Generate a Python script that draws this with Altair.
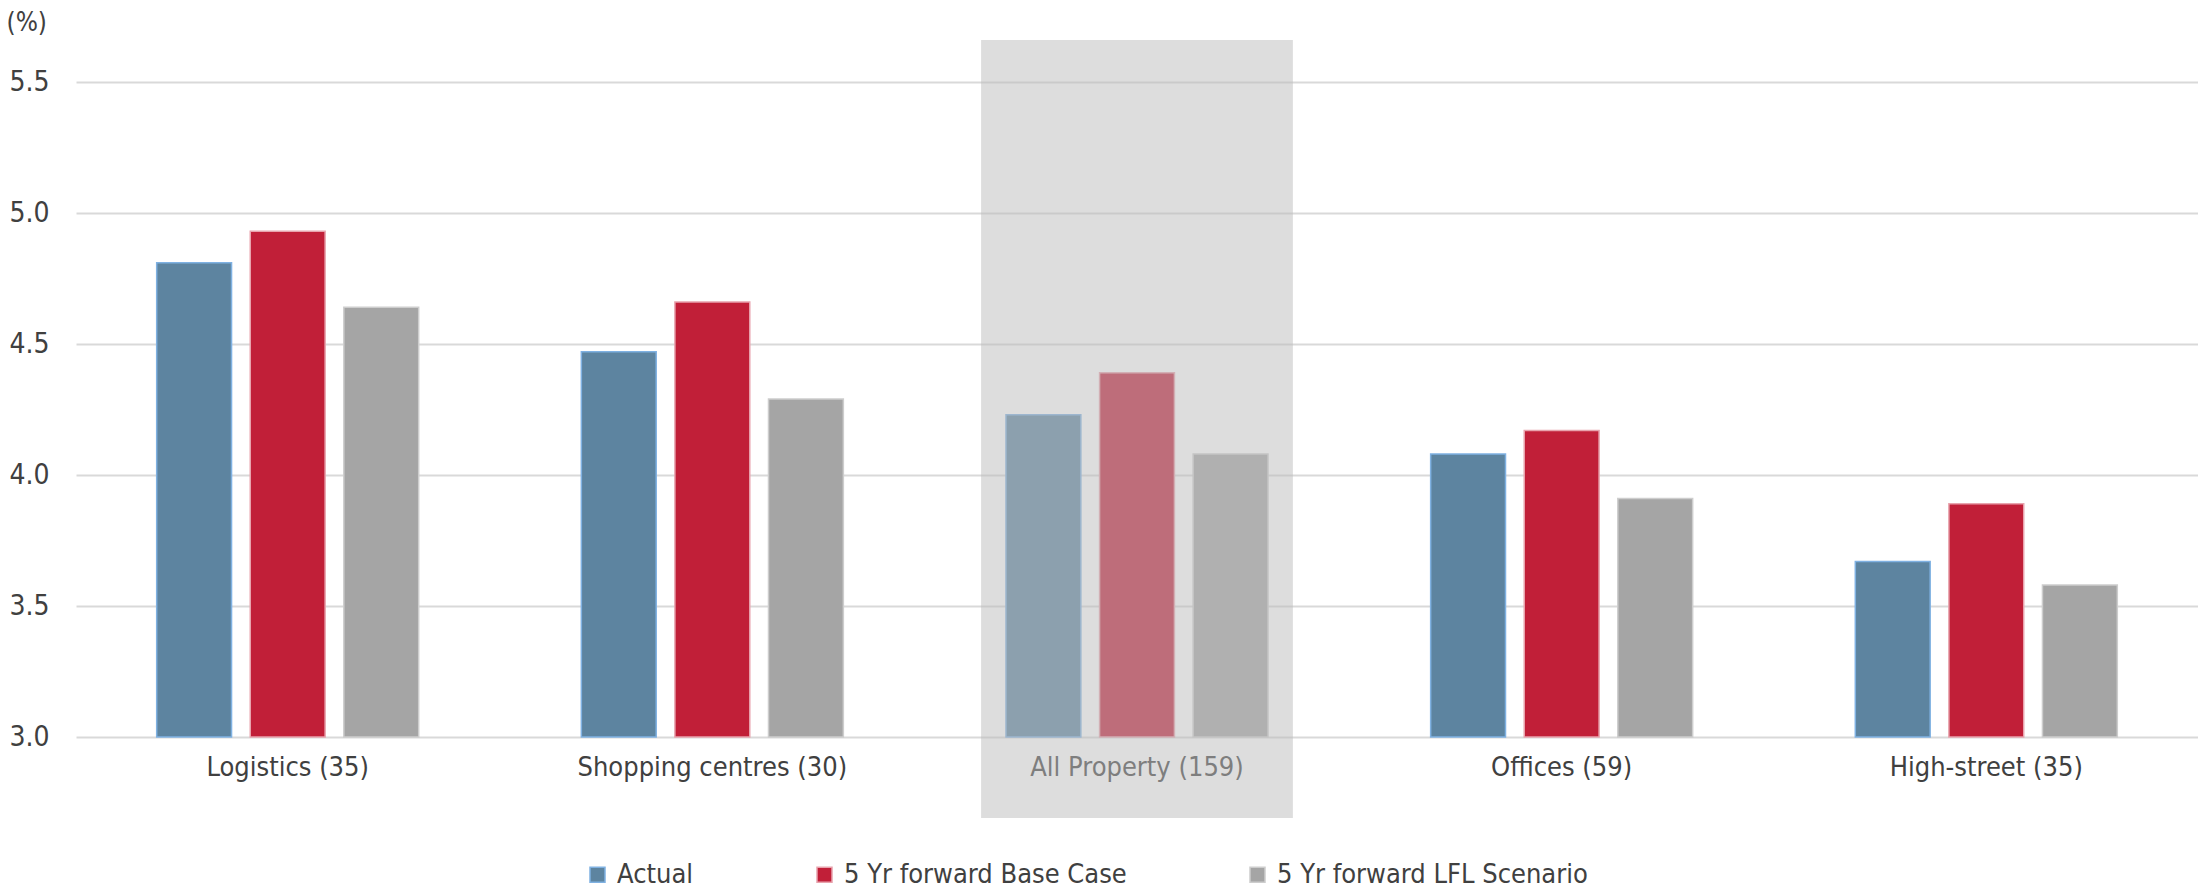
import altair as alt
import pandas as pd

categories = ["Logistics (35)", "Shopping centres (30)", "All Property (159)", "Offices (59)", "High-street (35)"]
series = ["Actual", "5 Yr forward Base Case", "5 Yr forward LFL Scenario"]
actual = [4.81, 4.47, 4.23, 4.08, 3.67]
base_case = [4.93, 4.66, 4.39, 4.17, 3.89]
lfl = [4.64, 4.29, 4.08, 3.91, 3.58]
highlight = ["All Property (159)"]
y_ticks = [3.0, 3.5, 4.0, 4.5, 5.0, 5.5]

fill_colors = ["#5d84a0", "#c11f38", "#a5a5a5"]
stroke_colors = ["#7fb1e2", "#e8a3ad", "#cdcdcd"]

rows = []
for s, vals in zip(series, [actual, base_case, lfl]):
    for c, v in zip(categories, vals):
        rows.append({"category": c, "series": s, "value": v})
df = pd.DataFrame(rows)
hl = pd.DataFrame({"category": highlight})

FONT = "DejaVu Sans Condensed, DejaVu Sans, sans-serif"
TXT = "#404040"

x_scale = alt.Scale(domain=categories, paddingInner=0.383, paddingOuter=0.19)

legend = alt.Legend(
    title=None, orient="none", legendX=508, legendY=779, direction="horizontal",
    symbolType="square", symbolSize=225, symbolStrokeWidth=1.5, symbolOffset=0,
    labelFontSize=27, labelFont=FONT, labelColor=TXT, labelOffset=6,
    columnPadding=117, labelLimit=1000,
)

bars = alt.Chart(df).mark_bar(strokeWidth=1.5).encode(
    x=alt.X("category:N", sort=categories, title=None, scale=x_scale,
            axis=alt.Axis(labelAngle=0, ticks=False, domain=False, labelPadding=17,
                          labelFontSize=27, labelColor=TXT, labelFont=FONT, grid=False,
                          labelLimit=1000)),
    xOffset=alt.XOffset("series:N", sort=series, scale=alt.Scale(domain=series, paddingInner=0.2)),
    y=alt.Y("value:Q", scale=alt.Scale(domain=[3, 5.5], nice=False, zero=False),
            axis=alt.Axis(values=y_ticks, format=".1f", grid=True, gridColor="#d9d9d9", gridWidth=2,
                          domain=False, ticks=False, labelPadding=27, labelFontSize=28,
                          labelFont=FONT, labelColor=TXT, title="(%)", titleAngle=0,
                          titleAlign="left", titleBaseline="middle", titleX=-70, titleY=-60,
                          titleFontSize=26, titleFontWeight="normal", titleFont=FONT,
                          titleColor=TXT)),
    y2=alt.datum(3),
    fill=alt.Fill("series:N", sort=series, scale=alt.Scale(domain=series, range=fill_colors), legend=legend),
    stroke=alt.Stroke("series:N", sort=series, scale=alt.Scale(domain=series, range=stroke_colors), legend=legend),
)

overlay = alt.Chart(hl).mark_bar(color="#bcbcbc", opacity=0.5, width=alt.RelativeBandSize(1.19)).encode(
    x=alt.X("category:N", sort=categories, scale=x_scale),
    y=alt.value(-42),
    y2=alt.value(736),
)

chart = alt.layer(bars, overlay).properties(
    width=2122, height=655,
    autosize=alt.AutoSizeParams(type="none"),
    padding={"left": 76, "top": 82, "right": 0, "bottom": 152},
).configure_view(stroke=None)

chart.save("out.html", embed_options={"renderer": "svg", "actions": False})
